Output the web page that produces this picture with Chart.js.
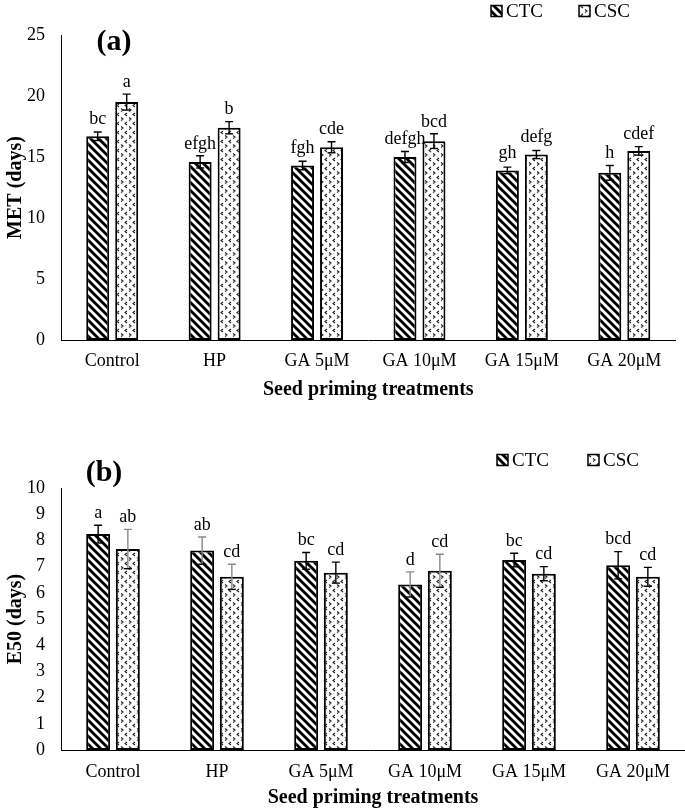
<!DOCTYPE html>
<html><head><meta charset="utf-8">
<script src="https://cdn.jsdelivr.net/npm/chart.js@4.4.1/dist/chart.umd.min.js"></script>
<style>
html,body{margin:0;padding:0;background:#fff;}
#wrap{position:relative;width:685px;height:812px;overflow:hidden;background:#fff;}
canvas{position:absolute;left:0;}
#cA{top:0;} #cB{top:440px;}
</style></head><body>
<div id="wrap">
<canvas id="cA" width="685" height="410"></canvas>
<canvas id="cB" width="685" height="372"></canvas>
</div>
<script>
// ---------- data ----------
const categories = ['Control', 'HP', 'GA 5\u03bcM', 'GA 10\u03bcM', 'GA 15\u03bcM', 'GA 20\u03bcM'];
const seriesNames = ['CTC', 'CSC'];

const metTicks = [0, 5, 10, 15, 20, 25];
const metCTC = [16.7, 14.6, 14.3, 15.0, 13.9, 13.7];
const metCSC = [19.5, 17.4, 15.8, 16.3, 15.2, 15.5];
const metCTCErr = [0.35, 0.5, 0.35, 0.45, 0.27, 0.6];
const metCSCErr = [0.65, 0.5, 0.45, 0.6, 0.33, 0.35];
const metCTCLetters = ['bc', 'efgh', 'fgh', 'defgh', 'gh', 'h'];
const metCSCLetters = ['a', 'b', 'cde', 'bcd', 'defg', 'cdef'];

const e50Ticks = [0, 1, 2, 3, 4, 5, 6, 7, 8, 9, 10];
const e50CTC = [8.24, 7.61, 7.22, 6.32, 7.25, 7.05];
const e50CSC = [7.67, 6.61, 6.77, 6.84, 6.73, 6.61];
const e50CTCErr = [0.34, 0.52, 0.32, 0.48, 0.26, 0.52];
const e50CSCErr = [0.75, 0.48, 0.4, 0.63, 0.27, 0.36];
const e50CTCLetters = ['a', 'ab', 'bc', 'd', 'bc', 'bcd'];
const e50CSCLetters = ['ab', 'cd', 'cd', 'cd', 'cd', 'cd'];

// ---------- styles ----------
const FONT = "'Liberation Serif','Times New Roman',serif";
Chart.defaults.font.family = FONT;
Chart.defaults.color = '#000';

function stripeTile() {
  const c = document.createElement('canvas'); c.width = 8; c.height = 8;
  const g = c.getContext('2d');
  g.fillStyle = '#fff'; g.fillRect(0, 0, 8, 8);
  g.strokeStyle = '#000'; g.lineWidth = 2.9;
  for (const o of [-8, 0, 8]) { g.beginPath(); g.moveTo(o - 2, -2); g.lineTo(o + 10, 10); g.stroke(); }
  return c;
}
function confettiTile() {
  const c = document.createElement('canvas'); c.width = 8; c.height = 9;
  const g = c.getContext('2d');
  g.fillStyle = '#fff'; g.fillRect(0, 0, 8, 9);
  g.strokeStyle = '#222'; g.lineWidth = 1.1;
  g.beginPath(); g.moveTo(1, 0.5); g.lineTo(3, 2); g.lineTo(1, 3.5); g.stroke();
  g.beginPath(); g.moveTo(7, 5); g.lineTo(5, 6.5); g.lineTo(7, 8); g.stroke();
  return c;
}

const annot = {
  id: 'annot',
  afterDatasetsDraw(chart, args, opts) {
    const ctx = chart.ctx, ys = chart.scales.y;
    chart.data.datasets.forEach((ds, i) => {
      const meta = chart.getDatasetMeta(i);
      meta.data.forEach((bar, j) => {
        const v = ds.data[j], e = ds.errors[j], x = bar.x;
        const yt = ys.getPixelForValue(v + e), yb = ys.getPixelForValue(v - e);
        ctx.save();
        ctx.lineWidth = 1.4;
        ctx.strokeStyle = ds.errColors ? ds.errColors[j] : '#000';
        ctx.beginPath();
        ctx.moveTo(x, yt); ctx.lineTo(x, yb);
        ctx.moveTo(x - 4, yt); ctx.lineTo(x + 4, yt);
        ctx.stroke();
        ctx.strokeStyle = '#000';
        ctx.beginPath(); ctx.moveTo(x - 4, yb); ctx.lineTo(x + 4, yb); ctx.stroke();
        const ly = Math.min(bar.y - 17, yt - 12);
        ctx.fillStyle = '#000';
        ctx.font = '18px ' + FONT;
        ctx.textAlign = 'center'; ctx.textBaseline = 'middle';
        ctx.fillText(ds.letters[j], x, ly);
        ctx.restore();
      });
    });
  },
  afterDraw(chart, args, opts) {
    const ctx = chart.ctx;
    ctx.save();
    const L = opts.legend;
    chart.data.datasets.forEach((ds, i) => {
      const bx = L.x[i], by = L.y - L.box / 2;
      ctx.fillStyle = ds.backgroundColor;
      ctx.fillRect(bx, by, L.box, L.box);
      ctx.lineWidth = 1.5; ctx.strokeStyle = '#000';
      ctx.strokeRect(bx, by, L.box, L.box);
      ctx.fillStyle = '#000';
      ctx.font = L.font + 'px ' + FONT;
      ctx.textAlign = 'left'; ctx.textBaseline = 'middle';
      ctx.fillText(ds.label, bx + L.box + L.gap, L.y + 1);
    });
    const T = opts.tag;
    ctx.font = 'bold 30px ' + FONT;
    ctx.textAlign = 'center'; ctx.textBaseline = 'middle';
    ctx.fillText(T.text, T.x, T.y);
    ctx.restore();
  }
};

function build(id, cfg) {
  const canvas = document.getElementById(id);
  const ctx = canvas.getContext('2d');
  const stripe = ctx.createPattern(stripeTile(), 'repeat');
  const confetti = ctx.createPattern(confettiTile(), 'repeat');
  const ticks = cfg.ticks;
  return new Chart(ctx, {
    type: 'bar',
    data: {
      labels: categories,
      datasets: [
        { label: seriesNames[0], data: cfg.ctc, errors: cfg.ctcErr, letters: cfg.ctcLetters, errColors: cfg.ctcErrColors,
          backgroundColor: stripe, borderColor: '#000', borderWidth: 2, borderSkipped: false },
        { label: seriesNames[1], data: cfg.csc, errors: cfg.cscErr, letters: cfg.cscLetters, errColors: cfg.cscErrColors,
          backgroundColor: confetti, borderColor: '#000', borderWidth: 2, borderSkipped: false }
      ]
    },
    options: {
      responsive: false, animation: false, devicePixelRatio: 1,
      categoryPercentage: cfg.catPct, barPercentage: cfg.barPct,
      layout: { padding: { top: cfg.padTop, right: cfg.padRight, left: 0, bottom: 0 } },
      plugins: {
        legend: { display: false }, tooltip: { enabled: false },
        annot: { legend: cfg.legend, tag: cfg.tag }
      },
      scales: {
        x: {
          grid: { display: false, drawTicks: false },
          border: { display: true, color: '#000', width: 1 },
          ticks: { padding: cfg.xTickPad, font: { size: 18 }, color: '#000', maxRotation: 0, autoSkip: false },
          title: { display: true, text: 'Seed priming treatments', font: { size: 20, weight: 'bold' }, color: '#000',
                   padding: { top: 0, bottom: cfg.xTitlePadBottom } },
          afterFit: s => { s.height = cfg.xHeight; }
        },
        y: {
          min: ticks[0], max: ticks[ticks.length - 1],
          grid: { display: false, drawTicks: false },
          border: { display: true, color: '#000', width: 1 },
          ticks: { stepSize: ticks[1] - ticks[0], padding: 16, font: { size: 18 }, color: '#000' },
          title: { display: true, text: cfg.yTitle, font: { size: 20, weight: 'bold' }, color: '#000',
                   padding: { top: 4, bottom: 0 } },
          afterFit: s => { s.width = 61; }
        }
      }
    },
    plugins: [annot]
  });
}

build('cA', {
  ticks: metTicks, ctc: metCTC, csc: metCSC, ctcErr: metCTCErr, cscErr: metCSCErr,
  ctcLetters: metCTCLetters, cscLetters: metCSCLetters,
  yTitle: 'MET (days)', padTop: 35, padRight: 9.5, xHeight: 70, xTickPad: 10, xTitlePadBottom: 8,
  catPct: 0.566, barPct: 0.793,
  legend: { x: [491, 579], y: 11, box: 11, gap: 4, font: 19 },
  tag: { text: '(a)', x: 114, y: 42 }
});

build('cB', {
  ticks: e50Ticks, ctc: e50CTC, csc: e50CSC, ctcErr: e50CTCErr, cscErr: e50CSCErr,
  ctcLetters: e50CTCLetters, cscLetters: e50CSCLetters,
  ctcErrColors: ['#000', '#888', '#000', '#888', '#000', '#000'],
  cscErrColors: ['#888', '#888', '#000', '#888', '#000', '#000'],
  yTitle: 'E50 (days)', padTop: 48, padRight: 0, xHeight: 62, xTickPad: 11, xTitlePadBottom: 2,
  catPct: 0.571, barPct: 0.807,
  legend: { x: [497, 588], y: 20, box: 11, gap: 4, font: 19 },
  tag: { text: '(b)', x: 104, y: 33 }
});
</script>
</body></html>
